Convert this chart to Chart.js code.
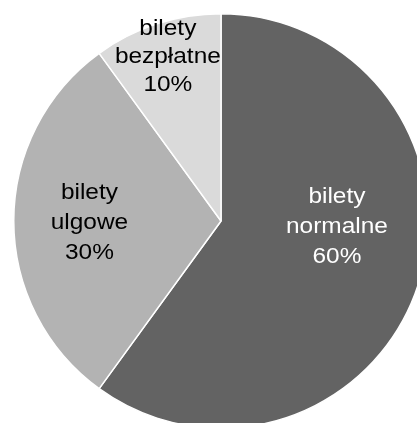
<!DOCTYPE html>
<html lang="pl">
<head>
    <meta charset="UTF-8">
    <title>Bilety</title>
    <script src="https://cdn.jsdelivr.net/npm/chart.js"></script>
    <style>
        html, body { margin: 0; padding: 0; background: #fff; overflow: hidden; width: 417px; height: 423px; }
        #wrap { position: absolute; left: 13px; top: 13px; width: 416px; height: 416px; }
    </style>
</head>
<body>
    <div id="wrap"><canvas id="pie"></canvas></div>

    <script>
        // data
        const categories = ['bilety normalne', 'bilety ulgowe', 'bilety bezpłatne'];
        const shares = [60, 30, 10];
        const sliceColors = ['#636363', '#b3b3b3', '#dadada'];
        const labelColors = ['#ffffff', '#000000', '#000000'];

        // where each label sits inside its slice (fraction of radius, turn from mid angle in degrees)
        const labelRadius = [0.56, 0.635, 0.83];
        const labelTurn = [-15, -1, 0];

        const sliceLabels = {
            id: 'sliceLabels',
            afterDatasetsDraw(chart) {
                const ctx = chart.ctx;
                const arcs = chart.getDatasetMeta(0).data;
                ctx.save();
                ctx.font = '22px "Liberation Sans", Arial, sans-serif';
                ctx.textAlign = 'center';
                ctx.textBaseline = 'middle';
                arcs.forEach((arc, i) => {
                    const p = arc.getProps(['x', 'y', 'startAngle', 'endAngle', 'outerRadius'], true);
                    const mid = (p.startAngle + p.endAngle) / 2 + labelTurn[i] * Math.PI / 180;
                    const cx = p.x + Math.cos(mid) * p.outerRadius * labelRadius[i];
                    const cy = p.y + Math.sin(mid) * p.outerRadius * labelRadius[i];
                    const words = categories[i].split(' ');
                    const lines = [words[0], words[1], shares[i] + '%'];
                    const gap = i === 2 ? 28 : 30;
                    ctx.fillStyle = labelColors[i];
                    lines.forEach((t, k) => {
                        ctx.save();
                        ctx.translate(cx, cy + (k - 1) * gap);
                        ctx.scale(1.11, 1);
                        ctx.fillText(t, 0, 0);
                        ctx.restore();
                    });
                });
                ctx.restore();
            }
        };

        new Chart(document.getElementById('pie'), {
            type: 'pie',
            data: {
                labels: categories,
                datasets: [{
                    data: shares,
                    backgroundColor: sliceColors,
                    borderColor: '#ffffff',
                    borderWidth: 1.5,
                    hoverOffset: 0
                }]
            },
            options: {
                responsive: true,
                maintainAspectRatio: false,
                animation: false,
                layout: { padding: 0 },
                plugins: { legend: { display: false }, tooltip: { enabled: false } }
            },
            plugins: [sliceLabels]
        });
    </script>
</body>
</html>
